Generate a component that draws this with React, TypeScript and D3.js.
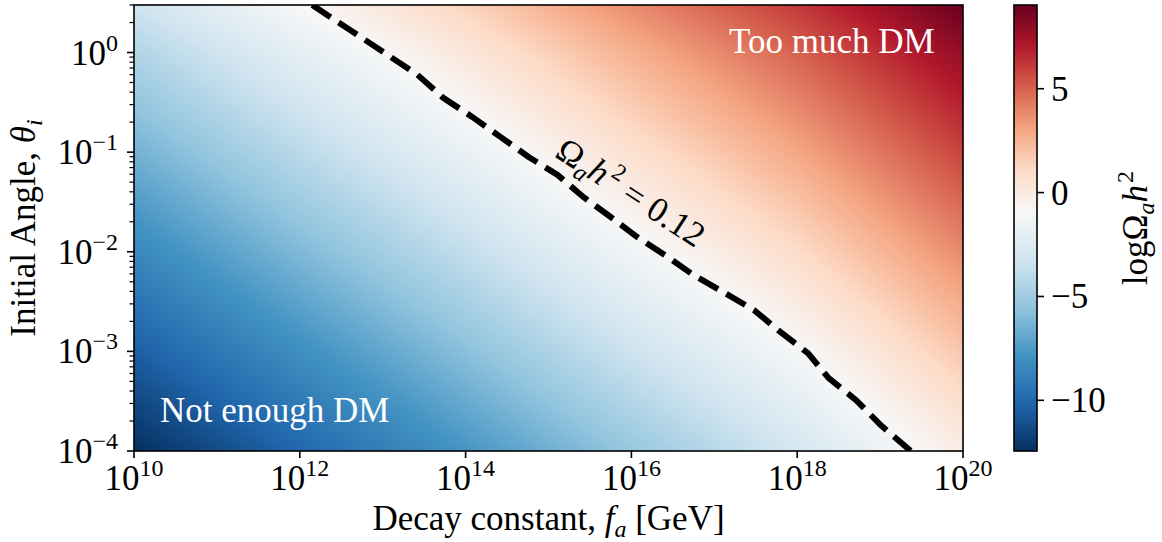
import React, { useMemo } from 'react';
import * as d3 from 'd3';

const WIDTH = 1162;
const HEIGHT = 542;
const FONT = "'Liberation Serif', 'DejaVu Serif', serif";
const FS = 35;
const FS_SCRIPT = 24;

// Grid nodes: log10 of the decay constant f_a [GeV] and of the initial angle θ_i
const logFaNodes = [10, 11, 12, 13, 14, 15, 16, 17, 18, 19, 20];
const logThetaNodes = [-4, -3, -2, -1, 0, 0.4771];

// log10(Ω_a h²) along f_a, one row per θ_i node
const omegaTheta1em4 = [-12.44, -11.25, -10.07, -8.92, -7.75, -6.54, -5.34, -4.21, -3.02, -1.6, -0.15];
const omegaTheta1em3 = [-10.44, -9.25, -8.07, -6.92, -5.75, -4.54, -3.34, -2.21, -1.02, 0.4, 1.85];
const omegaTheta1em2 = [-8.44, -7.25, -6.07, -4.92, -3.75, -2.54, -1.34, -0.21, 0.98, 2.4, 3.85];
const omegaTheta1em1 = [-6.44, -5.25, -4.07, -2.92, -1.75, -0.54, 0.66, 1.79, 2.98, 4.4, 5.85];
const omegaTheta1 = [-4.44, -3.25, -2.07, -0.92, 0.25, 1.46, 2.66, 3.79, 4.98, 6.4, 7.85];
const omegaTheta3 = [-3.29, -2.1, -0.92, 0.23, 1.4, 2.61, 3.81, 4.94, 6.13, 7.55, 9.03];

// Ω_a h² = 0.12 contour
const contourLogFa = [12.15, 12.73, 13.42, 13.73, 14.08, 14.42, 14.76, 15.11, 15.42, 15.75, 16.07, 16.44, 16.75, 17.11, 17.48, 17.8, 18.13, 18.38, 18.71, 19.01, 19.37];
const contourLogTheta = [0.477, 0.158, -0.224, -0.455, -0.646, -0.847, -1.048, -1.229, -1.45, -1.651, -1.852, -2.053, -2.234, -2.405, -2.586, -2.807, -3.018, -3.269, -3.49, -3.742, -4.0];
const relicLevel = Math.log10(0.12);

// Axis ticks
const xTickExponents = [10, 12, 14, 16, 18, 20];
const yTickExponents = [-4, -3, -2, -1, 0];
const colorbarTicks = [5, 0, -5, -10];

const colorMin = -12.44;
const colorMax = 9.03;

// RdBu reversed (blue → white → red)
const rdbuR = ['#053061', '#2166ac', '#4393c3', '#92c5de', '#d1e5f0', '#f7f7f7', '#fddbc7', '#f4a582', '#d6604d', '#b2182b', '#67001f'];

const plot = { left: 134, right: 963, top: 5, bottom: 451 };
const cbar = { left: 1014, right: 1037, top: 5, bottom: 451 };

const cmap = d3
  .scaleLinear<string>()
  .domain(d3.range(11).map((i) => i / 10))
  .range(rdbuR)
  .interpolate(d3.interpolateRgb)
  .clamp(true);

// Diverging norm centred on the relic-density level
function norm(v: number): number {
  if (v <= relicLevel) return 0.5 * (v - colorMin) / (relicLevel - colorMin);
  return 0.5 + 0.5 * (v - relicLevel) / (colorMax - relicLevel);
}

const omegaRows = [omegaTheta1em4, omegaTheta1em3, omegaTheta1em2, omegaTheta1em1, omegaTheta1, omegaTheta3];

function sampleOmega(lf: number, lt: number): number {
  const nf = logFaNodes.length;
  const nt = logThetaNodes.length;
  const j = Math.min(Math.max(d3.bisectRight(logFaNodes, lf) - 1, 0), nf - 2);
  const i = Math.min(Math.max(d3.bisectRight(logThetaNodes, lt) - 1, 0), nt - 2);
  const fx = (lf - logFaNodes[j]) / (logFaNodes[j + 1] - logFaNodes[j]);
  const fy = (lt - logThetaNodes[i]) / (logThetaNodes[i + 1] - logThetaNodes[i]);
  const a = omegaRows[i][j];
  const b = omegaRows[i][j + 1];
  const c = omegaRows[i + 1][j];
  const d = omegaRows[i + 1][j + 1];
  return (a * (1 - fx) + b * fx) * (1 - fy) + (c * (1 - fx) + d * fx) * fy;
}

export default function App() {
  const x = d3.scaleLog().domain([1e10, 1e20]).range([plot.left, plot.right]);
  const y = d3.scaleLog().domain([1e-4, 3]).range([plot.bottom, plot.top]);
  const cy = d3.scaleLinear().domain([colorMin, colorMax]).range([cbar.bottom, cbar.top]);

  const heatmap = useMemo(() => {
    const w = plot.right - plot.left;
    const h = plot.bottom - plot.top;
    const canvas = document.createElement('canvas');
    canvas.width = w;
    canvas.height = h;
    const ctx = canvas.getContext('2d');
    if (!ctx) return '';
    const img = ctx.createImageData(w, h);
    for (let r = 0; r < h; r++) {
      const lt = Math.log10(y.invert(plot.top + r + 0.5));
      for (let c = 0; c < w; c++) {
        const lf = Math.log10(x.invert(plot.left + c + 0.5));
        const col = d3.rgb(cmap(norm(sampleOmega(lf, lt))));
        const k = (r * w + c) * 4;
        img.data[k] = col.r;
        img.data[k + 1] = col.g;
        img.data[k + 2] = col.b;
        img.data[k + 3] = 255;
      }
    }
    ctx.putImageData(img, 0, 0);
    return canvas.toDataURL();
  }, []);

  const contourPath = d3
    .line<number>()
    .x((i) => x(Math.pow(10, contourLogFa[i])))
    .y((i) => y(Math.pow(10, contourLogTheta[i])))(d3.range(contourLogFa.length)) || '';

  const yMinor: number[] = [];
  for (let e = -4; e <= 0; e++) {
    for (let k = 2; k <= 9; k++) {
      const v = k * Math.pow(10, e);
      if (v <= 3) yMinor.push(v);
    }
  }

  const cbarRows = d3.range(cbar.top, cbar.bottom);

  return (
    <svg
      width={WIDTH}
      height={HEIGHT}
      style={{ position: 'absolute', left: 0, top: 0, background: '#fff' }}
      fontFamily={FONT}
    >
      <defs>
        <clipPath id="plot-clip">
          <rect x={plot.left} y={plot.top} width={plot.right - plot.left} height={plot.bottom - plot.top} />
        </clipPath>
      </defs>

      <image
        href={heatmap}
        x={plot.left}
        y={plot.top}
        width={plot.right - plot.left}
        height={plot.bottom - plot.top}
        preserveAspectRatio="none"
      />

      <path
        d={contourPath}
        fill="none"
        stroke="#000"
        strokeWidth={6}
        strokeDasharray="22 9.6"
        clipPath="url(#plot-clip)"
      />

      <text
        transform="translate(631,192) rotate(33)"
        textAnchor="middle"
        fontSize={FS}
        y={12}
        fill="#000"
      >
        Ω<tspan fontStyle="italic" fontSize={FS_SCRIPT} dy={7}>a</tspan>
        <tspan fontStyle="italic" dy={-7}>h</tspan>
        <tspan fontSize={FS_SCRIPT} dx={3} dy={-14}>2</tspan>
        <tspan dx={9} dy={14}>=</tspan>
        <tspan dx={9}>0.12</tspan>
      </text>

      <text x={729} y={53} fontSize={FS} fill="#fff">Too much DM</text>
      <text x={160} y={422} fontSize={FS} fill="#fff">Not enough DM</text>

      {/* axes frame */}
      <rect
        x={plot.left}
        y={plot.top}
        width={plot.right - plot.left}
        height={plot.bottom - plot.top}
        fill="none"
        stroke="#000"
        strokeWidth={1.6}
      />

      {/* x ticks */}
      {xTickExponents.map((e) => {
        const px = x(Math.pow(10, e));
        return (
          <g key={`x${e}`}>
            <line x1={px} x2={px} y1={plot.bottom} y2={plot.bottom + 7} stroke="#000" strokeWidth={1.6} />
            <text x={px} y={490} textAnchor="middle" fontSize={FS}>
              10<tspan fontSize={FS_SCRIPT} dy={-14}>{e}</tspan>
            </text>
          </g>
        );
      })}

      {/* y ticks */}
      {yMinor.map((v, i) => (
        <line
          key={`ym${i}`}
          x1={plot.left - 4.5}
          x2={plot.left}
          y1={y(v)}
          y2={y(v)}
          stroke="#000"
          strokeWidth={1.2}
        />
      ))}
      {yTickExponents.map((e) => {
        const py = y(Math.pow(10, e));
        return (
          <g key={`y${e}`}>
            <line x1={plot.left - 7} x2={plot.left} y1={py} y2={py} stroke="#000" strokeWidth={1.6} />
            <text x={118} y={py + 12} textAnchor="end" fontSize={FS}>
              10<tspan fontSize={FS_SCRIPT} dy={-14}>{e < 0 ? `\u2212${-e}` : `${e}`}</tspan>
            </text>
          </g>
        );
      })}

      {/* axis labels */}
      <text x={(plot.left + plot.right) / 2} y={530} textAnchor="middle" fontSize={FS}>
        Decay constant, <tspan fontStyle="italic">f</tspan>
        <tspan fontStyle="italic" fontSize={FS_SCRIPT} dy={7}>a</tspan>
        <tspan dy={-7}> [GeV]</tspan>
      </text>
      <text transform="translate(35,228) rotate(-90)" textAnchor="middle" fontSize={FS}>
        Initial Angle, <tspan fontStyle="italic">θ</tspan>
        <tspan fontStyle="italic" fontSize={FS_SCRIPT} dy={7}>i</tspan>
      </text>

      {/* colorbar */}
      {cbarRows.map((py) => (
        <rect
          key={`cb${py}`}
          x={cbar.left}
          y={py}
          width={cbar.right - cbar.left}
          height={1.2}
          fill={cmap(norm(cy.invert(py + 0.5)))}
        />
      ))}
      <rect
        x={cbar.left}
        y={cbar.top}
        width={cbar.right - cbar.left}
        height={cbar.bottom - cbar.top}
        fill="none"
        stroke="#000"
        strokeWidth={1.6}
      />
      {colorbarTicks.map((t) => (
        <g key={`cbt${t}`}>
          <line x1={cbar.right} x2={cbar.right + 7} y1={cy(t)} y2={cy(t)} stroke="#000" strokeWidth={1.6} />
          <text x={1051} y={cy(t) + 12} fontSize={FS}>
            {t < 0 ? `\u2212${-t}` : `${t}`}
          </text>
        </g>
      ))}
      <text transform="translate(1147,228) rotate(-90)" textAnchor="middle" fontSize={FS}>
        logΩ<tspan fontStyle="italic" fontSize={FS_SCRIPT} dy={7}>a</tspan>
        <tspan fontStyle="italic" dy={-7}>h</tspan>
        <tspan fontSize={FS_SCRIPT} dx={2} dy={-14}>2</tspan>
      </text>
    </svg>
  );
}
